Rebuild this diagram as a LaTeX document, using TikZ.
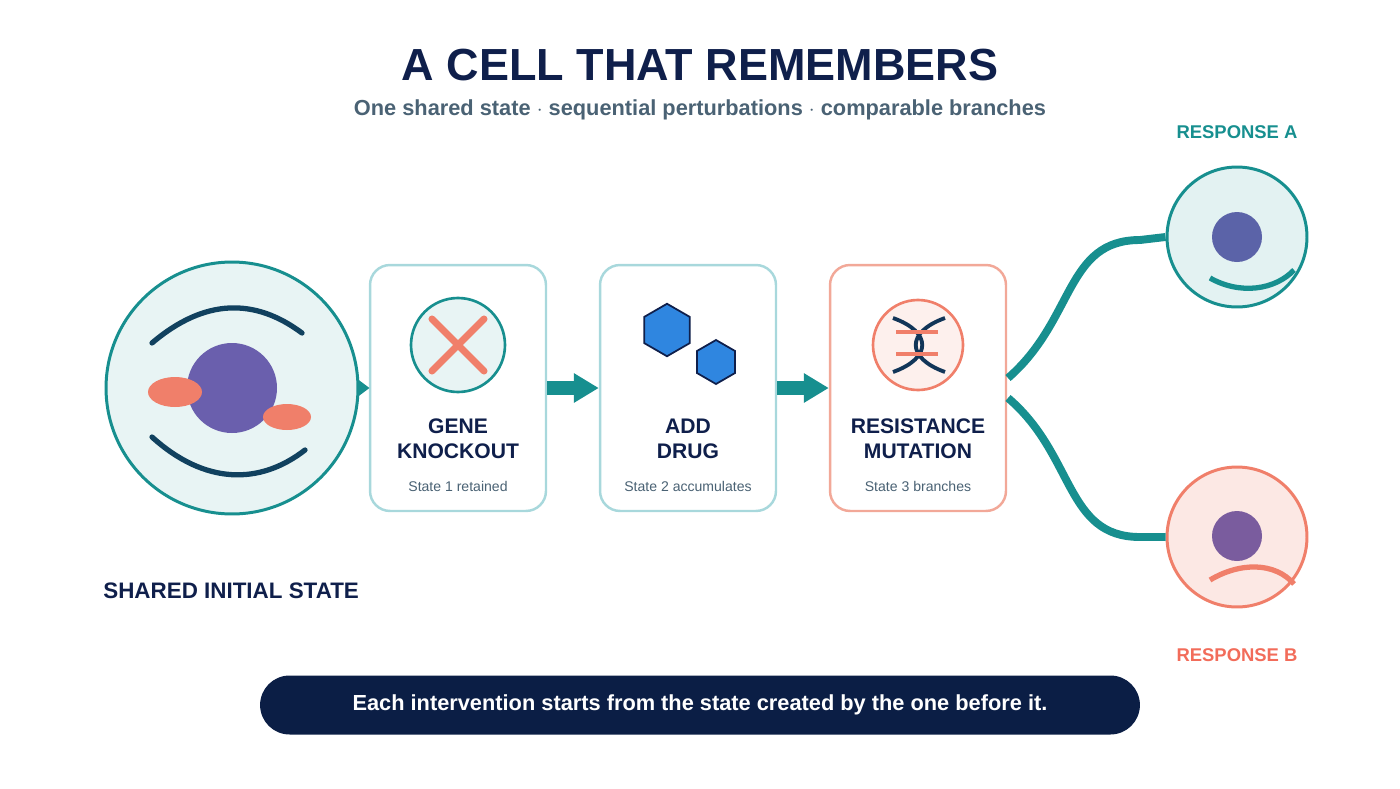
\documentclass[tikz,border=0pt]{standalone}
\usepackage{fontspec}
\setmainfont{Liberation Sans}
\usetikzlibrary{arrows.meta,shapes.geometric,positioning}
\definecolor{navy}{HTML}{0F1F4B}
\definecolor{banner}{HTML}{0B1E45}
\definecolor{teal}{HTML}{178F8F}
\definecolor{paleteal}{HTML}{A8D8DC}
\definecolor{coral}{HTML}{F07F6A}
\definecolor{palecoral}{HTML}{F2A898}
\definecolor{slate}{HTML}{4A6274}
\definecolor{nucleus}{HTML}{6A5FAD}
\definecolor{nucleusA}{HTML}{5B63A8}
\definecolor{nucleusB}{HTML}{7A5C9E}
\definecolor{hexblue}{HTML}{2F86E0}

\tikzset{
  step box/.style={draw=#1, line width=1.4pt, fill=white, rounded corners=0.4cm,
    minimum width=3.52cm, minimum height=4.92cm},
  step title/.style={font=\fontsize{12}{14}\selectfont\bfseries, text=navy, align=center},
  step note/.style={font=\fontsize{8}{10}\selectfont, text=slate},
  step arrow/.style={teal, line width=0.28cm, -{Triangle[length=0.5cm,width=0.56cm]}},
  branch/.style={teal, line width=4.5pt},
  hex/.style={regular polygon, regular polygon sides=6, shape border rotate=30,
    fill=hexblue, draw=navy, line width=1pt, inner sep=0pt}
}

\begin{document}
\begin{tikzpicture}[x=0.02cm,y=-0.02cm]

    \useasboundingbox (0,0) rectangle (1400,788);

    % heading
    \node (title) at (700,65) {\fontsize{25.6}{30}\selectfont\bfseries\color{navy}A CELL THAT REMEMBERS};
    \node (sub) at (700,110) {\fontsize{12.4}{14}\selectfont\bfseries\color{slate}One shared state $\cdot$ sequential perturbations $\cdot$ comparable branches};

    % shared cell
    \node[circle, draw=teal, line width=1.7pt, fill=teal!10, minimum size=5.04cm] (cell) at (232,388) {};
    \draw[navy!70!teal, line width=3pt, line cap=round] (152,343) .. controls (205,298) and (255,298) .. (302,333);
    \draw[navy!70!teal, line width=3pt, line cap=round] (152,437) .. controls (205,485) and (260,485) .. (305,450);
    \fill[nucleus] (232,388) circle (45);
    \fill[coral] (175,392) ellipse (27 and 15);
    \fill[coral] (287,417) ellipse (24 and 13);
    \node[font=\fontsize{12.75}{14}\selectfont\bfseries, text=navy, anchor=west, inner sep=0pt] (shared) at (103,591) {SHARED INITIAL STATE};

    % steps
    \node[step box=paleteal] (knock) at (458,388) {};
    \node[step box=paleteal] (drug) at (688,388) {};
    \node[step box=palecoral] (mut) at (918,388) {};
    \fill[teal] (cell.east) ++(-2,-9) -- ++(12,9) -- ++(-12,9) -- cycle;

    \draw[step arrow] (knock.east) -- (drug.west);
    \draw[step arrow] (drug.east) -- (mut.west);

    % knockout icon
    \draw[teal, line width=1.5pt, fill=teal!10] (458,345) circle (47);
    \draw[coral, line width=4pt, line cap=round] (432,319) -- (484,371) (484,319) -- (432,371);
    % drug icon
    \node[hex, minimum size=1.05cm] (hexa) at (667,330) {};
    \node[hex, minimum size=0.88cm] (hexb) at (716,362) {};
    % mutation icon
    \draw[coral, line width=1.5pt, fill=coral!12] (918,345) circle (45);
    \draw[navy!80!teal, line width=2.2pt] (893,318) .. controls (932,332) and (932,358) .. (893,372);
    \draw[navy!80!teal, line width=2.2pt] (945,318) .. controls (906,332) and (906,358) .. (945,372);
    \draw[coral, line width=1.8pt] (896,332) -- (938,332) (896,354) -- (938,354);

    \node[step title] at (458,439) {GENE\\KNOCKOUT};
    \node[step note] at (458,486) {State 1 retained};
    \node[step title] at (688,439) {ADD\\DRUG};
    \node[step note] at (688,486) {State 2 accumulates};
    \node[step title] at (918,439) {RESISTANCE\\MUTATION};
    \node[step note] at (918,486) {State 3 branches};

    % responses
    \node[circle, draw=teal, line width=1.7pt, fill=teal!12, minimum size=2.8cm] (respA) at (1237,237) {};
    \node[circle, draw=coral, line width=1.7pt, fill=coral!18, minimum size=2.8cm] (respB) at (1237,537) {};
    \fill[nucleusA] (1237,237) circle (25);
    \fill[nucleusB] (1237,536) circle (25);
    \draw[teal, line width=3pt] (1210,278) .. controls (1240,295) and (1275,290) .. (1294,270);
    \draw[coral, line width=3pt] (1210,580) .. controls (1240,562) and (1275,562) .. (1294,584);
    \draw[branch] (1008,378) .. controls (1075,320) and (1065,240) .. (1140,240) -- (respA.west);
    \draw[branch] (1008,398) .. controls (1075,455) and (1065,537) .. (1140,537) -- (respB.west);
    \node[font=\fontsize{10.5}{12}\selectfont\bfseries, text=teal] (labA) at (1237,132) {RESPONSE A};
    \node[font=\fontsize{10.5}{12}\selectfont\bfseries, text=coral!85!red] (labB) at (1237,655) {RESPONSE B};

    % banner
    \node[fill=banner, rounded corners=0.59cm, minimum width=17.6cm, minimum height=1.18cm,
      text=white, font=\fontsize{12.4}{14}\selectfont\bfseries] (banner) at (700,705)
      {Each intervention starts from the state created by the one before it.};

  \end{tikzpicture}
\end{document}
